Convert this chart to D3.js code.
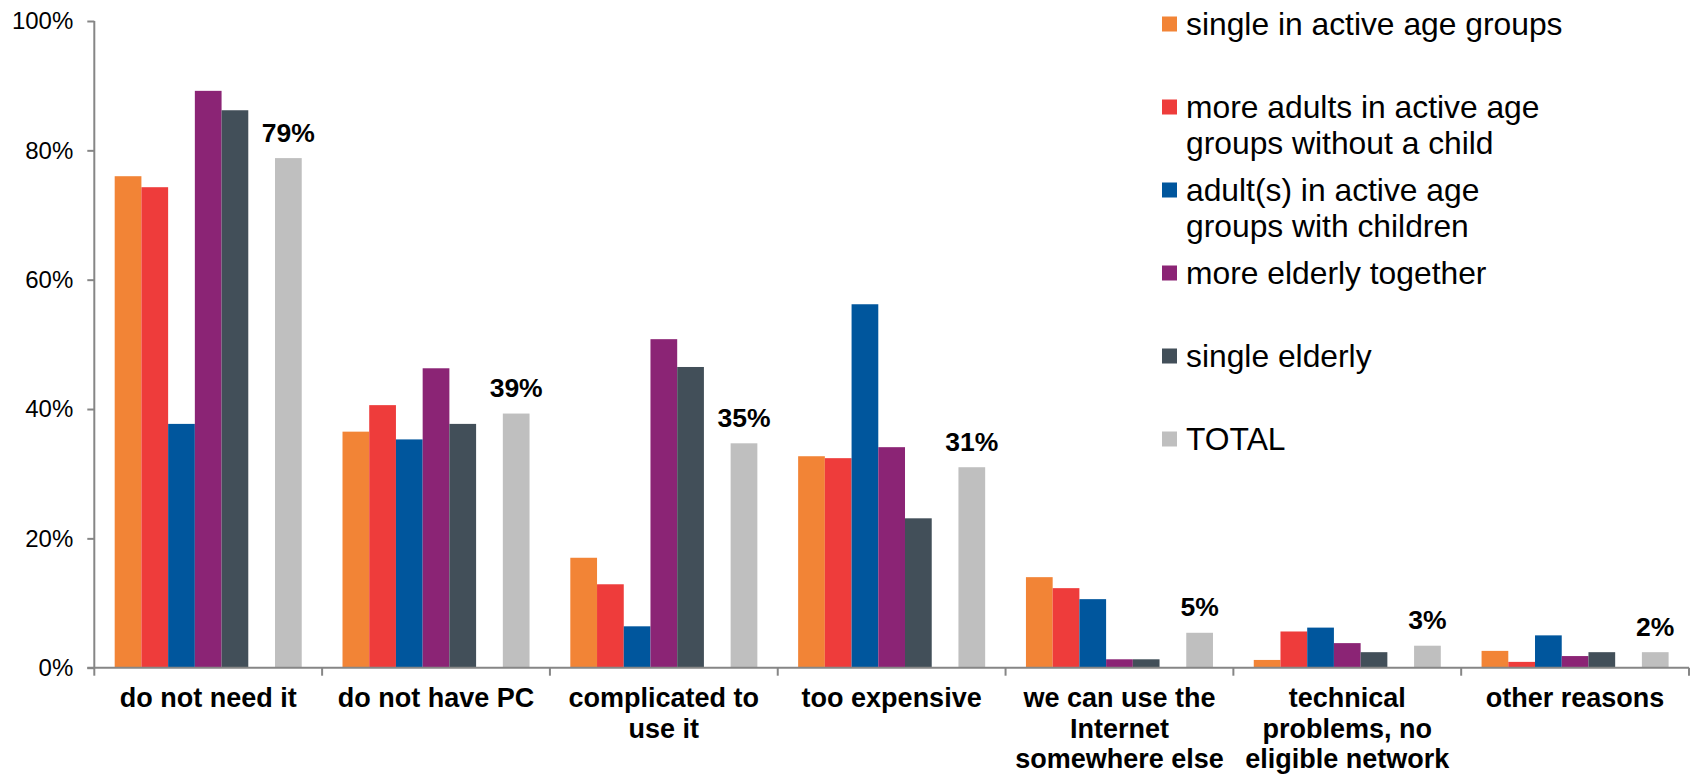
<!DOCTYPE html>
<html>
<head>
<meta charset="utf-8">
<script src="https://cdn.jsdelivr.net/npm/d3@7"></script>
<style>
  html, body { margin: 0; padding: 0; background: #fff; }
  svg { display: block; font-family: "Liberation Sans", Arial, Helvetica, sans-serif; }
</style>
</head>
<body>
<svg id="chart" width="1694" height="775"></svg>
<script>
// Reasons for not having Internet access at home, by household type (%)
const categories = [
  "do not need it",
  "do not have PC",
  "complicated to use it",
  "too expensive",
  "we can use the Internet somewhere else",
  "technical problems, no eligible network",
  "other reasons"
];

const seriesNames = [
  "single in active age groups",
  "more adults in active age groups without a child",
  "adult(s) in active age groups with children",
  "more elderly together",
  "single elderly",
  "TOTAL"
];

const singleActive       = [76.0, 36.5, 17.0, 32.7, 14.0, 1.2, 2.6];
const adultsNoChild      = [74.3, 40.6, 12.9, 32.4, 12.3, 5.6, 0.9];
const adultsWithChildren = [37.7, 35.3,  6.4, 56.2, 10.6, 6.2, 5.0];
const elderlyTogether    = [89.2, 46.3, 50.8, 34.1,  1.3, 3.8, 1.8];
const singleElderly      = [86.2, 37.7, 46.5, 23.1,  1.3, 2.4, 2.4];
const total              = [78.8, 39.3, 34.7, 31.0,  5.4, 3.4, 2.4];

const yTicks = [0, 20, 40, 60, 80, 100];

const seriesValues = [singleActive, adultsNoChild, adultsWithChildren, elderlyTogether, singleElderly, total];
const seriesColors = ["#f28436", "#ee3c3b", "#00569d", "#8b2475", "#424f59", "#bfbfbf"];

// one empty slot sits between the household groups and the total bar
const slotOrder = [...seriesNames.slice(0, 5), "", seriesNames[5]];

const svg = d3.select("#chart");
const plot = { left: 94.3, right: 1689, top: 21, bottom: 667.7 };
const axisColor = "#868686";

const y = d3.scaleLinear().domain([0, 100]).range([plot.bottom, plot.top]);

const x0 = d3.scaleBand()
  .domain(categories)
  .range([plot.left, plot.right])
  .paddingInner(0.179)
  .paddingOuter(0.0895);

const x1 = d3.scaleBand()
  .domain(slotOrder)
  .range([0, x0.bandwidth()])
  .padding(0);

// bars
const groups = svg.append("g").selectAll("g")
  .data(categories)
  .join("g")
  .attr("transform", d => `translate(${x0(d)},0)`);

groups.selectAll("rect")
  .data((c, ci) => seriesNames.map((s, si) => ({ series: s, si, value: seriesValues[si][ci] })))
  .join("rect")
  .attr("x", d => x1(d.series))
  .attr("width", x1.bandwidth())
  .attr("y", d => y(d.value))
  .attr("height", d => y(0) - y(d.value))
  .attr("fill", d => seriesColors[d.si]);

// value labels above the total bars
const pct = v => d3.format(".0f")(v) + "%";
groups.append("text")
  .datum((c, ci) => total[ci])
  .attr("x", x1(seriesNames[5]) + x1.bandwidth() / 2)
  .attr("y", d => y(d) - 16.6)
  .attr("text-anchor", "middle")
  .attr("font-size", 26.5)
  .attr("font-weight", "bold")
  .attr("fill", "#000")
  .text(d => pct(d));

// y axis
const yAxis = svg.append("g")
  .attr("transform", `translate(${plot.left},0)`)
  .call(d3.axisLeft(y).tickValues(yTicks).tickSize(7).tickPadding(14).tickFormat(d => d + "%"));
yAxis.select(".domain").attr("stroke", axisColor).attr("stroke-width", 2)
  .attr("d", `M0,${plot.top}V${plot.bottom}`);
yAxis.selectAll(".tick line").attr("stroke", axisColor).attr("stroke-width", 2);
yAxis.selectAll(".tick text").attr("font-size", 24).attr("fill", "#000")
  .attr("font-family", "\"Liberation Sans\", Arial, sans-serif");

// x axis: baseline with ticks at category boundaries
const xAxis = svg.append("g");
xAxis.append("line")
  .attr("x1", plot.left - 7).attr("x2", plot.right)
  .attr("y1", y(0)).attr("y2", y(0))
  .attr("stroke", axisColor).attr("stroke-width", 2);

const boundaries = categories.map(c => x0(c) - x0.step() * x0.paddingInner() / 2)
  .concat([plot.right]);
boundaries[0] = plot.left;
xAxis.selectAll("line.bound")
  .data(boundaries)
  .join("line")
  .attr("class", "bound")
  .attr("x1", d => d).attr("x2", d => d)
  .attr("y1", y(0)).attr("y2", y(0) + 8)
  .attr("stroke", axisColor).attr("stroke-width", 2);

// wraps a label into lines no wider than maxWidth
function wrapLines(textSel, str, maxWidth) {
  const words = str.split(" ");
  const lines = [];
  let line = [];
  const probe = textSel.append("tspan");
  for (const w of words) {
    const trial = line.concat([w]).join(" ");
    probe.text(trial);
    if (probe.node().getComputedTextLength() > maxWidth && line.length) {
      lines.push(line.join(" "));
      line = [w];
    } else {
      line.push(w);
    }
  }
  if (line.length) lines.push(line.join(" "));
  probe.remove();
  return lines;
}

// category labels
const catLineHeight = 30.5;
xAxis.selectAll("text.cat")
  .data(categories)
  .join("text")
  .attr("class", "cat")
  .attr("text-anchor", "middle")
  .attr("font-size", 27)
  .attr("font-weight", "bold")
  .attr("fill", "#000")
  .each(function (d) {
    const t = d3.select(this);
    const cx = x0(d) + x0.bandwidth() / 2;
    const lines = wrapLines(t, d, 216);
    lines.forEach((ln, i) => {
      t.append("tspan").attr("x", cx).attr("y", y(0) + 39.6 + i * catLineHeight).text(ln);
    });
  });

// legend
const legend = svg.append("g").attr("transform", "translate(1162,0)");
const legendStep = 83;
const legendLineHeight = 36;
const items = legend.selectAll("g")
  .data(seriesNames)
  .join("g")
  .attr("transform", (d, i) => `translate(0,${24 + i * legendStep})`);

items.append("rect")
  .attr("x", 0).attr("y", -7.5)
  .attr("width", 15).attr("height", 15)
  .attr("fill", (d, i) => seriesColors[i]);

items.append("text")
  .attr("font-size", 31.8)
  .attr("fill", "#000")
  .each(function (d) {
    const t = d3.select(this);
    const lines = wrapLines(t, d, 388);
    lines.forEach((ln, i) => {
      t.append("tspan").attr("x", 24).attr("y", 10.5 + i * legendLineHeight).text(ln);
    });
  });
</script>
</body>
</html>
